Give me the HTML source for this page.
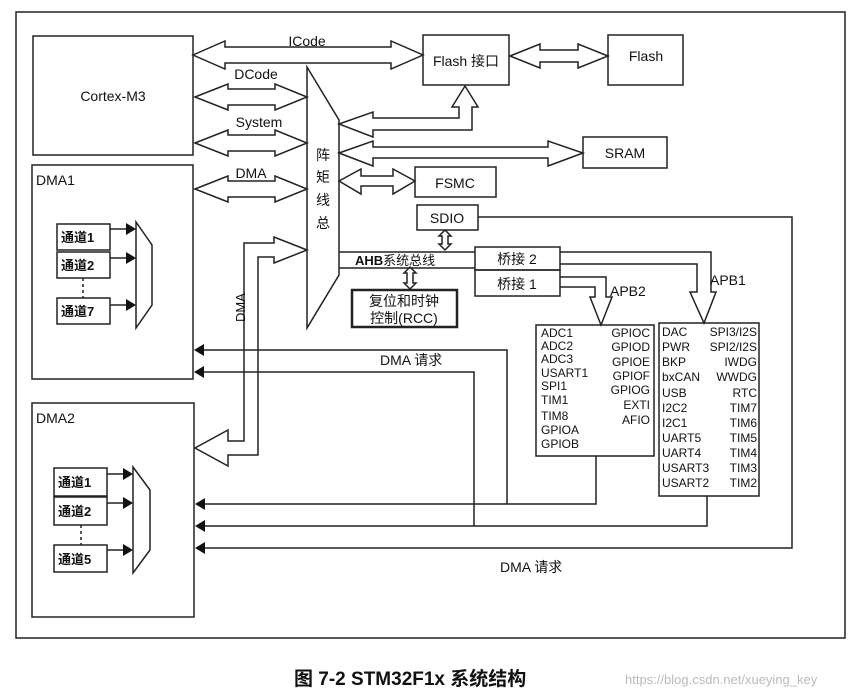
<!DOCTYPE html>
<html><head><meta charset="utf-8"><style>
html,body{margin:0;padding:0;background:#fff;}
svg{display:block;}
text{font-family:"Liberation Sans","Noto Sans CJK SC",sans-serif;fill:#111;}
</style></head><body>
<svg width="863" height="696" viewBox="0 0 863 696" xmlns="http://www.w3.org/2000/svg">
<g fill="none" stroke="#222" stroke-width="1.5">
<rect x="16" y="12" width="829" height="626"/>
<rect x="33" y="36" width="160" height="119"/>
<rect x="32" y="165" width="161" height="214"/>
<rect x="32" y="403" width="162" height="214"/>
<polygon points="307,67 339,120 339,275 307,328" fill="#fff"/>
<rect x="423" y="35" width="86" height="50"/>
<rect x="608" y="35" width="75" height="50"/>
<rect x="583" y="137" width="84" height="31"/>
<rect x="415" y="167" width="81" height="30"/>
<rect x="417" y="205" width="61" height="25"/>
<rect x="352" y="290" width="105" height="37" stroke-width="2.5"/>
<rect x="475" y="247" width="85" height="23"/>
<rect x="475" y="270" width="85" height="26"/>
<rect x="536" y="325" width="118" height="131"/>
<rect x="659" y="323" width="100" height="173"/>
<!-- double arrows -->
<polygon points="193,55 225,41 225,47 391,47 391,41 423,55 391,69 391,63 225,63 225,69"/>
<polygon points="195,97 228,84 228,89 275,89 275,84 307,97 275,110 275,105 228,105 228,110"/>
<polygon points="195,143 228,130 228,135 275,135 275,130 307,143 275,156 275,151 228,151 228,156"/>
<polygon points="195,189 228,176 228,181 275,181 275,176 307,189 275,202 275,197 228,197 228,202"/>
<polygon points="510,56 540,44 540,50 578,50 578,44 608,56 578,68 578,62 540,62 540,68"/>
<polygon points="339,124 373,112 373,118 459,118 459,107 452,107 465,86 478,107 472,107 472,130 373,130 373,137"/>
<polygon points="339,153 373,141 373,147 548,147 548,141 583,153 548,166 548,158 373,158 373,166"/>
<polygon points="339,181 361,169 361,176 393,176 393,169 415,181 393,194 393,186 361,186 361,194"/>
<polygon points="445,230 451,236 448,236 448,244 451,244 445,250 439,244 442,244 442,236 439,236"/>
<polygon points="410,267 416,273 413,273 413,283 416,283 410,289 404,283 407,283 407,273 404,273"/>
<!-- DMA bus arrow -->
<polygon points="307,250 274,237 274,243 244,243 244,441 228,441 228,430 195,448 228,466 228,455 258,455 258,257 274,257 274,263"/>
<!-- AHB lines -->
<line x1="339" y1="252" x2="475" y2="252"/>
<line x1="339" y1="268" x2="475" y2="268"/>
<!-- APB2 -->
<polyline points="560,277 606,277 606,297 612,297 601,325 590,297 595,297 595,287 560,287"/>
<polyline points="560,252 711,252 711,292 716,292 704,323 690,292 697,292 697,264 560,264"/>
<!-- DMA request lines -->
<polyline points="197,350 507,350 507,504"/>
<polyline points="197,372 474,372 474,526"/>
<polyline points="197,504 596,504 596,456"/>
<polyline points="197,526 707,526 707,496"/>
<polyline points="197,548 792,548 792,217 478,217"/>
<!-- DMA1 channels -->
<rect x="57" y="224" width="53" height="26"/>
<rect x="57" y="252" width="53" height="26"/>
<rect x="57" y="298" width="53" height="26"/>
<line x1="83" y1="278" x2="83" y2="298" stroke-dasharray="3,3"/>
<polygon points="136,222 152,245 152,305 136,328"/>
<line x1="110" y1="229" x2="128" y2="229"/>
<line x1="110" y1="258" x2="128" y2="258"/>
<line x1="110" y1="305" x2="128" y2="305"/>
<!-- DMA2 channels -->
<rect x="54" y="468" width="53" height="28"/>
<rect x="54" y="497" width="53" height="28"/>
<rect x="54" y="545" width="53" height="27"/>
<line x1="81" y1="525" x2="81" y2="545" stroke-dasharray="3,3"/>
<polygon points="133,467 150,490 150,550 133,573"/>
<line x1="107" y1="474" x2="125" y2="474"/>
<line x1="107" y1="503" x2="125" y2="503"/>
<line x1="107" y1="550" x2="125" y2="550"/>
</g>
<g fill="#111">
<polygon points="136,229 126,223 126,235"/><polygon points="136,258 126,252 126,264"/><polygon points="136,305 126,299 126,311"/>
<polygon points="133,474 123,468 123,480"/><polygon points="133,503 123,497 123,509"/><polygon points="133,550 123,544 123,556"/>
<polygon points="194,350 204,344 204,356"/><polygon points="194,372 204,366 204,378"/>
<polygon points="195,504 205,498 205,510"/><polygon points="195,526 205,520 205,532"/><polygon points="195,548 205,542 205,554"/>
</g>
<g font-size="14">
<text x="113" y="101" text-anchor="middle">Cortex-M3</text>
<text x="36" y="185">DMA1</text>
<text x="36" y="423">DMA2</text>
<text x="307" y="46" text-anchor="middle">ICode</text>
<text x="256" y="79" text-anchor="middle">DCode</text>
<text x="259" y="127" text-anchor="middle">System</text>
<text x="251" y="178" text-anchor="middle">DMA</text>
<text x="466" y="66" text-anchor="middle">Flash 接口</text>
<text x="646" y="61" text-anchor="middle">Flash</text>
<text x="625" y="158" text-anchor="middle">SRAM</text>
<text x="455" y="188" text-anchor="middle">FSMC</text>
<text x="447" y="223" text-anchor="middle">SDIO</text>
<text x="404" y="306" text-anchor="middle">复位和时钟</text>
<text x="404" y="323" text-anchor="middle">控制(RCC)</text>
<text x="517" y="264" text-anchor="middle">桥接 2</text>
<text x="517" y="289" text-anchor="middle">桥接 1</text>
<text x="610" y="296">APB2</text>
<text x="710" y="285">APB1</text>
<text x="380" y="365">DMA 请求</text>
<text x="500" y="572">DMA 请求</text>
<text x="355" y="265" font-weight="bold" font-size="13">AHB<tspan font-weight="normal">系统总线</tspan></text>
<text transform="translate(245,322) rotate(-90)" font-size="13">DMA</text>
</g>
<g font-size="14" text-anchor="middle">
<text x="323" y="160">阵</text><text x="323" y="182">矩</text><text x="323" y="205">线</text><text x="323" y="228">总</text>
</g>
<g font-size="13" font-weight="bold">
<text x="61" y="242">通道1</text><text x="61" y="270">通道2</text><text x="61" y="316">通道7</text>
<text x="58" y="487">通道1</text><text x="58" y="516">通道2</text><text x="58" y="564">通道5</text>
</g>
<g font-size="12">
<text x="541" y="337">ADC1</text><text x="541" y="350">ADC2</text><text x="541" y="363">ADC3</text><text x="541" y="377">USART1</text><text x="541" y="390">SPI1</text><text x="541" y="404">TIM1</text><text x="541" y="420">TIM8</text><text x="541" y="434">GPIOA</text><text x="541" y="448">GPIOB</text>
</g>
<g font-size="12" text-anchor="end">
<text x="650" y="337">GPIOC</text><text x="650" y="351">GPIOD</text><text x="650" y="366">GPIOE</text><text x="650" y="380">GPIOF</text><text x="650" y="394">GPIOG</text><text x="650" y="409">EXTI</text><text x="650" y="424">AFIO</text>
</g>
<g font-size="12">
<text x="662" y="336">DAC</text><text x="662" y="351">PWR</text><text x="662" y="366">BKP</text><text x="662" y="381">bxCAN</text><text x="662" y="397">USB</text><text x="662" y="412">I2C2</text><text x="662" y="427">I2C1</text><text x="662" y="442">UART5</text><text x="662" y="457">UART4</text><text x="662" y="472">USART3</text><text x="662" y="487">USART2</text>
</g>
<g font-size="12" text-anchor="end">
<text x="757" y="336">SPI3/I2S</text><text x="757" y="351">SPI2/I2S</text><text x="757" y="366">IWDG</text><text x="757" y="381">WWDG</text><text x="757" y="397">RTC</text><text x="757" y="412">TIM7</text><text x="757" y="427">TIM6</text><text x="757" y="442">TIM5</text><text x="757" y="457">TIM4</text><text x="757" y="472">TIM3</text><text x="757" y="487">TIM2</text>
</g>
<text x="294" y="685" font-size="19" font-weight="bold">图 7-2 STM32F1x 系统结构</text>
<text x="625" y="684" font-size="13" fill="#bbb" style="fill:#bbb">https://blog.csdn.net/xueying_key</text>
</svg>
</body></html>
